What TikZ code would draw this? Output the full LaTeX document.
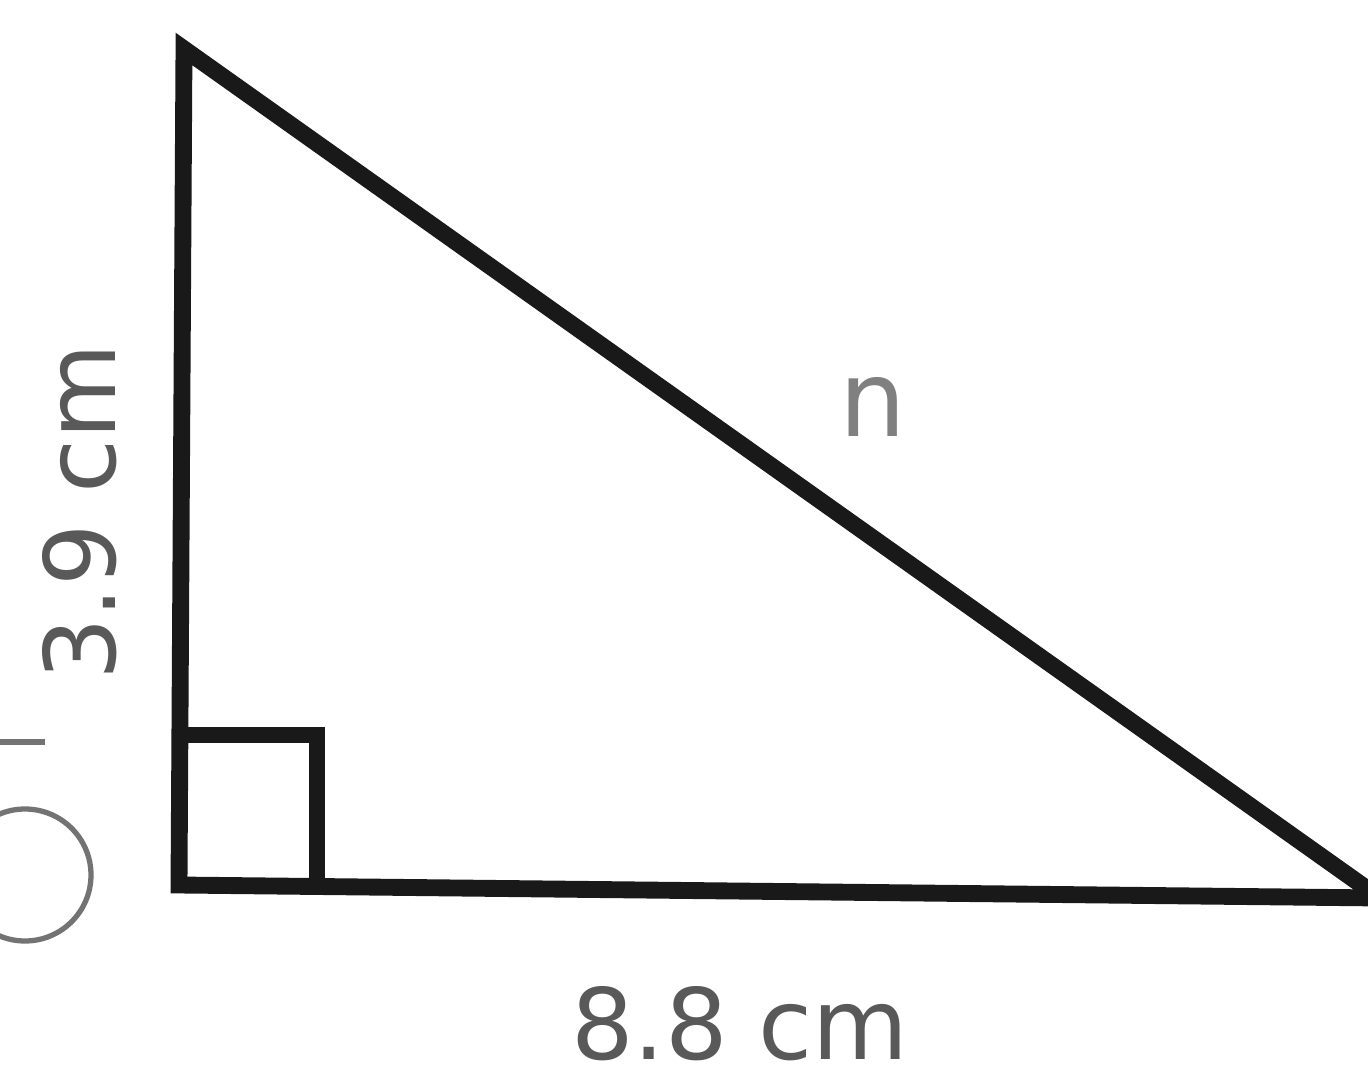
\documentclass[tikz,border=0pt]{standalone}
\usepackage{fontspec}
\setmainfont{DejaVu Sans}

\begin{document}
\begin{tikzpicture}[line join=miter, >=stealth]
    \useasboundingbox (0,0) rectangle (13.68,10.79);
    \tikzset{edge/.style={line width=4.8pt, black!90},
             lbl/.style={text=black!65, font=\fontsize{28}{30}\selectfont, inner sep=0pt},
             pencil/.style={black!55, line width=1.5pt}}
    \coordinate (T) at (1.84,10.30);
    \coordinate (O) at (1.79,1.94);
    \coordinate (R) at (13.80,1.81);
    \draw[edge] (T) -- (O) -- (R) -- cycle;
    % right angle mark
    \coordinate (m1) at (1.80,3.44);
    \coordinate (m2) at (3.17,3.44);
    \coordinate (m3) at (3.17,1.93);
    \draw[edge] (m1) -- (m2) -- (m3);
    \node[lbl, rotate=90] (leg) at (0.80,5.67) {3.9 cm};
    \node[lbl] (base) at (7.40,0.55) {8.8 cm};
    \node[lbl, text=black!50, font=\fontsize{30}{32}\selectfont] (hyp) at (8.73,6.72) {n};
    % stray pencil marks
    \draw[pencil] (0.25,2.04) circle (0.66);
    \coordinate (d1) at (0,3.37);
    \coordinate (d2) at (0.45,3.37);
    \draw[pencil] (d1) -- (d2);
\end{tikzpicture}
\end{document}
